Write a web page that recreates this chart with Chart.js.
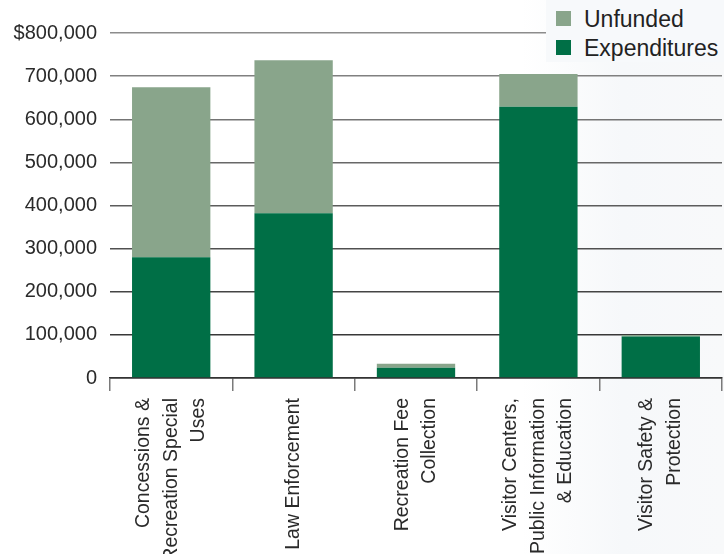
<!DOCTYPE html>
<html>
<head>
<meta charset="utf-8">
<script src="https://cdn.jsdelivr.net/npm/chart.js@4/dist/chart.umd.min.js"></script>
<style>
  html, body { margin: 0; padding: 0; }
  body {
    width: 724px; height: 554px; position: relative; overflow: hidden;
    background: linear-gradient(90deg, #ffffff 0%, #ffffff 72%, #f6f8fa 86%, #f8f9fa 100%);
    font-family: 'Liberation Sans', Arial, sans-serif;
  }
  #wrap { position: absolute; left: 0; top: 0; width: 724px; height: 554px; }
  .legend {
    position: absolute; left: 546px; top: 0; width: 178px; height: 62px;
    background: #f7f9fb;
  }
  .legend .item { position: absolute; left: 10px; font-size: 23px; color: #222; line-height: 24px; height: 24px; }
  .legend .sw { position: absolute; left: 0; top: 4px; width: 15px; height: 15px; }
  .legend .lbl { position: absolute; left: 28px; top: 0; white-space: nowrap; }
</style>
</head>
<body>
<div id="wrap"><canvas id="c" width="724" height="554"></canvas></div>
<div class="legend">
  <div class="item" style="top:7px"><span class="sw" style="background:#89a58b"></span><span class="lbl">Unfunded</span></div>
  <div class="item" style="top:36px"><span class="sw" style="background:#006f46"></span><span class="lbl">Expenditures</span></div>
</div>
<script>
// === DATA ===
const categories = [
    ['Concessions &', 'Recreation Special', 'Uses'],
    ['Law Enforcement'],
    ['Recreation Fee', 'Collection'],
    ['Visitor Centers,', 'Public Information', '& Education'],
    ['Visitor Safety &', 'Protection']
];
const expenditures = [280000, 382000, 24000, 629000, 96000];
const unfunded = [394000, 355000, 9000, 76000, 4000];

const COLORS = { exp: '#006f46', unf: '#89a58b', tick: '#7a7a7a', axis: '#333333', text: '#2a2a2a' };
const FONT = "'Liberation Sans', Arial, sans-serif";

// gridlines fade from dark at the bottom to light grey at the top
function gridColor(ctx) {
    const t = (ctx.tick ? ctx.tick.value : 0) / 800000;
    const g = Math.round(0x2c + (0x8c - 0x2c) * t);
    return `rgb(${g},${g},${g})`;
}

// rotated multi-line category labels, centred on each category
const xLabels = {
    id: 'xLabels',
    afterDraw(chart) {
        const s = chart.scales.x, ctx = chart.ctx;
        ctx.save();
        ctx.font = '19.5px ' + FONT;
        ctx.fillStyle = COLORS.text;
        ctx.textAlign = 'right';
        ctx.textBaseline = 'middle';
        categories.forEach((lines, i) => {
            const x = s.getPixelForValue(i);
            ctx.save();
            ctx.translate(x, 398);
            ctx.rotate(-Math.PI / 2);
            lines.forEach((ln, j) => ctx.fillText(ln, 0, (j - (lines.length - 1) / 2) * 27.5));
            ctx.restore();
        });
        ctx.restore();
    }
};

// === CHART ===
new Chart(document.getElementById('c'), {
    type: 'bar',
    data: {
        labels: categories.map(l => l.join(' ')),
        datasets: [
            { label: 'Expenditures', data: expenditures, backgroundColor: COLORS.exp, barPercentage: 0.64, categoryPercentage: 1 },
            { label: 'Unfunded', data: unfunded, backgroundColor: COLORS.unf, barPercentage: 0.64, categoryPercentage: 1 }
        ]
    },
    options: {
        responsive: false,
        animation: false,
        layout: { padding: { top: 33, right: 2, left: 0, bottom: 0 } },
        plugins: { legend: { display: false }, tooltip: { enabled: false } },
        scales: {
            x: {
                stacked: true,
                grid: { offset: true, drawOnChartArea: false, tickLength: 13, color: COLORS.tick, lineWidth: 1.5 },
                border: { color: COLORS.axis, width: 1.5 },
                ticks: { display: false },
                afterFit: s => { s.height = 554 - 378; }
            },
            y: {
                stacked: true, min: 0, max: 800000,
                grid: { color: gridColor, lineWidth: 1.5, drawTicks: false },
                border: { display: false },
                ticks: {
                    stepSize: 100000, padding: 13, color: COLORS.text,
                    font: { family: FONT, size: 20 },
                    callback: v => (v === 800000 ? '$' : '') + v.toLocaleString('en-US')
                },
                afterFit: s => { s.width = 110; }
            }
        }
    },
    plugins: [xLabels]
});
</script>
</body>
</html>
